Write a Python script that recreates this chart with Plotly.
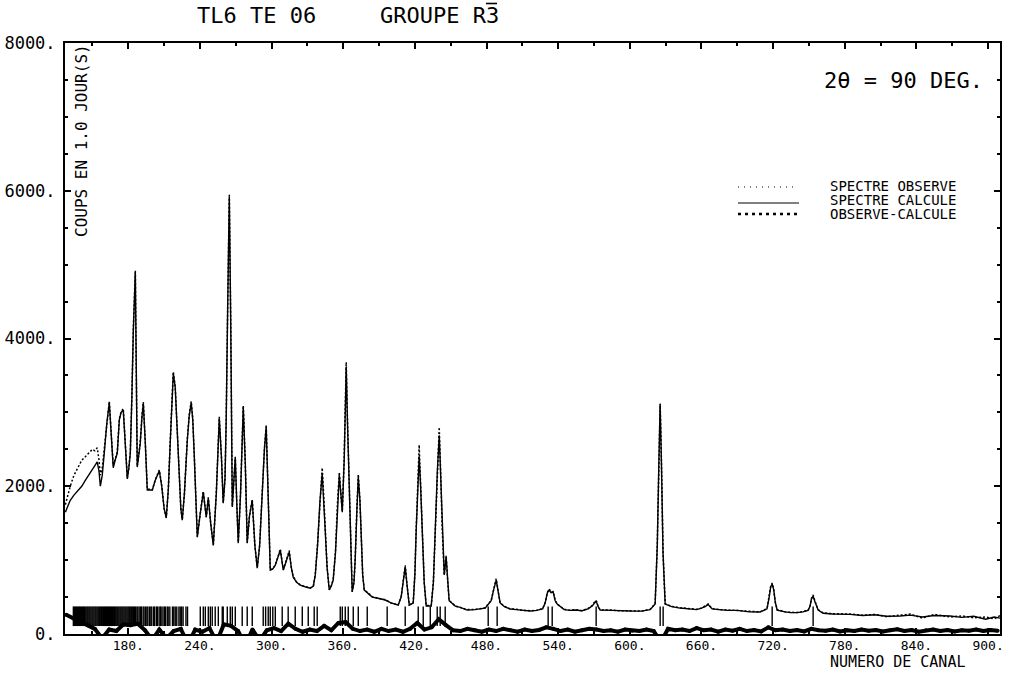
import plotly.graph_objects as go

# ---------------- data ----------------
CHANNELS = [
    127.3, 131.4, 134.5, 138.1, 141.0, 144.0, 147.0, 149.9, 152.0, 154.0,
    155.5, 156.6, 158.2, 159.9, 162.0, 164.1, 165.7, 167.4, 169.0, 170.8,
    172.5, 174.0, 175.8, 177.5, 179.2, 180.5, 181.7, 183.0, 184.2, 185.9,
    186.7, 187.5, 189.0, 190.0, 191.5, 192.6, 194.2, 195.9, 198.0, 200.1,
    202.6, 204.5, 206.0, 208.0, 210.0, 211.8, 213.5, 215.2, 216.5, 217.7,
    219.3, 221.0, 222.7, 224.0, 225.2, 227.0, 229.4, 231.0, 232.7, 234.0,
    235.3, 237.8, 240.0, 242.8, 245.3, 247.0, 249.0, 251.2, 253.7, 255.0,
    256.2, 258.0, 259.5, 261.0, 262.0, 263.3, 264.6, 265.8, 267.1, 268.5,
    269.6, 271.0, 272.1, 274.0, 275.3, 276.3, 278.0, 279.6, 281.5, 283.8,
    286.0, 288.0, 290.0, 292.0, 294.0, 295.5, 297.3, 298.9, 301.0, 303.1,
    305.5, 307.3, 309.8, 312.5, 314.8, 316.5, 318.1, 321.0, 324.0, 328.0,
    332.4, 335.0, 336.6, 338.5, 340.5, 342.4, 343.8, 344.9, 346.5, 348.3,
    350.0, 351.6, 353.5, 355.0, 356.7, 358.0, 359.2, 360.8, 361.7, 362.5,
    363.5, 365.0, 366.3, 367.5, 369.0, 370.0, 371.5, 372.6, 374.0, 375.1,
    376.3, 377.6, 381.0, 384.3, 390.0, 395.2, 400.0, 406.0, 408.5, 410.3,
    411.9, 413.5, 415.3, 418.6, 420.0, 421.1, 422.5, 423.6, 424.8, 426.1,
    427.8, 429.5, 433.7, 435.5, 437.0, 438.8, 440.4, 441.7, 442.9, 444.6,
    446.2, 447.5, 448.7, 453.8, 458.0, 463.8, 470.0, 478.9, 483.9, 486.0,
    488.1, 490.0, 491.4, 495.0, 499.8, 505.0, 510.0, 516.6, 522.0, 527.0,
    529.1, 531.0, 532.5, 534.0, 535.8, 537.5, 539.2, 545.0, 550.0, 554.2,
    560.0, 565.0, 568.5, 570.5, 571.8, 573.5, 575.2, 585.0, 590.0, 600.3,
    610.0, 617.0, 621.2, 623.0, 624.3, 625.4, 626.5, 627.8, 629.6, 635.0,
    642.1, 650.0, 656.0, 660.0, 663.1, 665.6, 668.9, 675.0, 682.0, 690.0,
    700.0, 709.1, 714.9, 716.5, 718.0, 719.2, 720.5, 721.8, 723.4, 730.0,
    734.2, 740.0, 745.0, 749.3, 751.0, 752.0, 753.5, 755.0, 757.7, 762.0,
    770.0, 784.5, 795.0, 805.0, 815.0, 826.3, 835.0, 845.0, 855.0, 868.2,
    878.0, 888.0, 898.0, 905.0, 910.0,
]

CALCULATED = [
    1650, 1810, 1880, 1950, 2000, 2080, 2150, 2215, 2280, 2330,
    2200, 2000, 2150, 2450, 2850, 3130, 2700, 2250, 2350, 2450,
    2900, 3000, 3030, 2600, 2100, 2250, 2450, 3200, 4100, 4890,
    3600, 2260, 2450, 2580, 2950, 3120, 2600, 1950, 1950, 1950,
    2080, 2150, 2210, 2000, 1700, 1570, 1950, 2620, 3200, 3530,
    3340, 2800, 2100, 1700, 1540, 1900, 2620, 2950, 3130, 2900,
    2400, 1310, 1600, 1920, 1580, 1840, 1500, 1200, 1900, 2500,
    2920, 2400, 1770, 2100, 2900, 4500, 5920, 4200, 1720, 2100,
    2390, 1700, 1230, 1900, 2700, 3070, 2300, 1230, 1600, 1810,
    1200, 890, 1200, 1900, 2500, 2800, 1800, 865, 880, 930,
    1050, 1135, 865, 1000, 1110, 900, 770, 700, 660, 640,
    620, 650, 800, 1200, 1800, 2175, 1800, 1400, 900, 595,
    650, 730, 1100, 1700, 2150, 1900, 1650, 2350, 3000, 3610,
    2900, 2000, 1000, 570, 700, 1000, 1700, 2120, 1800, 1270,
    800, 595, 550, 500, 480, 460, 420, 390, 500, 700,
    905, 650, 390, 420, 800, 1400, 2000, 2405, 2000, 1400,
    700, 380, 380, 700, 1400, 2200, 2690, 2100, 1400, 800,
    1040, 700, 450, 378, 360, 324, 330, 351, 450, 600,
    730, 550, 420, 370, 338, 330, 320, 311, 320, 340,
    420, 560, 595, 560, 567, 450, 405, 330, 320, 324,
    315, 340, 380, 430, 446, 370, 324, 320, 315, 311,
    310, 330, 405, 1200, 2300, 3107, 2300, 1100, 405, 370,
    351, 340, 330, 350, 370, 400, 340, 330, 320, 320,
    300, 297, 340, 480, 640, 675, 600, 430, 324, 300,
    290, 290, 300, 320, 380, 470, 513, 440, 324, 280,
    270, 265, 250, 260, 240, 243, 255, 230, 250, 243,
    225, 240, 200, 230, 215,
]

OBSERVED = [
    1750, 2000, 2150, 2250, 2350, 2400, 2450, 2500, 2480, 2520,
    2350, 2150, 2250, 2500, 2870, 3150, 2720, 2280, 2370, 2460,
    2910, 3010, 3050, 2610, 2110, 2260, 2460, 3210, 4120, 4920,
    3620, 2270, 2460, 2590, 2960, 3140, 2610, 1960, 1960, 1950,
    2090, 2160, 2220, 2010, 1700, 1580, 1950, 2630, 3210, 3550,
    3350, 2810, 2100, 1700, 1550, 1900, 2630, 2960, 3150, 2910,
    2400, 1320, 1600, 1930, 1580, 1850, 1500, 1210, 1900, 2510,
    2940, 2400, 1780, 2100, 2910, 4520, 5960, 4220, 1730, 2100,
    2400, 1700, 1240, 1900, 2710, 3090, 2300, 1240, 1600, 1820,
    1200, 900, 1200, 1910, 2510, 2830, 1800, 870, 880, 940,
    1050, 1150, 870, 1000, 1130, 900, 780, 700, 665, 640,
    625, 650, 810, 1220, 1830, 2250, 1820, 1410, 900, 600,
    650, 740, 1110, 1720, 2190, 1910, 1660, 2380, 3050, 3680,
    2930, 2010, 1000, 575, 700, 1010, 1720, 2160, 1810, 1280,
    800, 600, 555, 505, 480, 465, 420, 395, 500, 710,
    930, 655, 395, 425, 820, 1430, 2060, 2560, 2030, 1410,
    700, 385, 385, 710, 1430, 2260, 2800, 2130, 1410, 800,
    1060, 705, 455, 380, 360, 330, 330, 355, 455, 605,
    750, 555, 420, 375, 340, 335, 320, 315, 320, 345,
    425, 565, 610, 565, 575, 455, 405, 335, 320, 330,
    315, 345, 385, 435, 455, 370, 325, 325, 315, 315,
    310, 335, 410, 1210, 2320, 3120, 2300, 1100, 410, 375,
    355, 340, 335, 350, 375, 405, 345, 330, 325, 320,
    305, 300, 345, 485, 650, 690, 605, 430, 330, 300,
    295, 290, 305, 320, 385, 475, 530, 445, 330, 285,
    275, 270, 255, 265, 235, 250, 270, 215, 265, 230,
    245, 220, 230, 205, 250,
]

DIFF_CHANNELS = [
    128, 134, 140, 146, 152, 158, 164, 170, 176, 182,
    188, 194, 200, 206, 212, 218, 224, 230, 236, 242,
    248, 254, 260, 266, 272, 278, 284, 290, 296, 302,
    308, 314, 320, 326, 332, 338, 344, 350, 356, 362,
    368, 374, 380, 386, 392, 398, 404, 410, 416, 422,
    428, 434, 440, 446, 452, 458, 464, 470, 476, 482,
    488, 494, 500, 506, 512, 518, 524, 530, 536, 542,
    548, 554, 560, 566, 572, 578, 584, 590, 596, 602,
    608, 614, 620, 626, 632, 638, 644, 650, 656, 662,
    668, 674, 680, 686, 692, 698, 704, 710, 716, 722,
    728, 734, 740, 746, 752, 758, 764, 770, 776, 782,
    788, 794, 800, 806, 812, 818, 824, 830, 836, 842,
    848, 854, 860, 866, 872, 878, 884, 890, 896, 902,
    908,
]

DIFFERENCE = [
    260, 210, 170, 120, 70, -60, 60, 40, 130, 120,
    140, 50, -80, 60, -60, 40, 70, -140, 60, 30,
    80, -110, 130, 110, 40, -150, 60, -90, 50, 80,
    40, 140, 70, 30, 60, 40, 110, 50, 150, 160,
    70, 40, 60, 30, 70, 40, 60, 30, 70, 150,
    60, 90, 200, 120, 50, 40, 70, 50, 30, 60,
    40, 70, 50, 30, 60, 40, 55, 90, 70, 40,
    60, 30, 50, 70, 60, 40, 50, 30, 60, 45,
    40, 60, 40, -110, 70, 50, 60, 40, 80, 50,
    60, 30, 60, 45, 70, 40, 55, 35, 90, 50,
    60, 40, 55, 35, 70, 50, 45, 60, 35, 50,
    40, 60, 45, 55, 35, 50, 65, 40, 55, 30,
    50, 60, 40, 55, 35, 50, 45, 60, 40, 55,
    45,
]

REFLECTIONS = [
    134.0, 134.9, 135.8, 136.6, 137.5, 138.4, 139.2, 140.0, 141.0, 141.8,
    142.6, 143.5, 144.4, 145.3, 146.1, 147.0, 147.8, 148.7, 149.6, 150.4,
    151.3, 152.2, 153.0, 153.9, 154.8, 155.7, 156.5, 157.4, 158.2, 159.1,
    160.0, 160.8, 161.7, 162.6, 163.4, 164.3, 165.1, 166.0, 166.9, 167.8,
    168.6, 169.5, 170.4, 171.2, 172.1, 173.0, 173.8, 174.7, 175.5, 176.4,
    177.3, 178.1, 179.0, 179.9, 180.8, 181.6, 182.5, 183.3, 184.2, 185.1,
    186.0, 187.2, 188.0, 189.1, 190.3, 191.0, 192.4, 193.2, 194.5, 195.6,
    196.4, 197.8, 198.9, 199.7, 201.3, 202.1, 203.6, 204.4, 205.8, 206.9,
    207.5, 209.0, 210.2, 211.1, 212.6, 213.4, 214.8, 217.0, 218.1, 219.3,
    220.6, 222.4, 223.5, 224.7, 225.9, 228.3, 229.6, 240.3, 242.8, 244.5,
    247.0, 248.7, 250.3, 252.8, 255.4, 258.7, 259.5, 262.9, 265.4, 267.1,
    269.6, 275.4, 279.6, 283.8, 293.0, 295.0, 297.2, 298.9, 301.0, 303.1,
    308.9, 313.9, 319.8, 325.7, 330.7, 335.7, 338.2, 357.5, 359.2, 361.7,
    364.2, 368.4, 372.6, 380.1, 396.8, 411.9, 422.8, 427.0, 432.9, 438.7,
    441.2, 445.4, 481.4, 488.9, 531.6, 535.0, 571.8, 625.4, 627.9, 719.2,
    753.5,
]

X_TICKS = [180, 240, 300, 360, 420, 480, 540, 600, 660, 720, 780, 840, 900]
X_TICK_TEXT = ["180.", "240.", "300.", "360.", "420.", "480.", "540.",
               "600.", "660.", "720.", "780.", "840.", "900."]
Y_TICKS = [0, 2000, 4000, 6000, 8000]
Y_TICK_TEXT = ["0.", "2000.", "4000.", "6000.", "8000."]

# ---------------- style ----------------
FONT = "DejaVu Sans Mono"
TICK_LEVEL = 240          # vertical position of the reflection markers (counts)
X_RANGE = [127, 910]
Y_RANGE = [0, 8000]
W, H = 1016, 675
ML, MR, MT, MB = 65, 16, 43, 41
PW, PH = W - ML - MR, H - MT - MB


def px_x(p):
    """page pixel x -> paper coordinate"""
    return (p - ML) / PW


def px_y(p):
    """page pixel y -> paper coordinate"""
    return (MT + PH - p) / PH


fig = go.Figure()

fig.add_trace(go.Scatter(
    x=DIFF_CHANNELS, y=DIFFERENCE, mode="lines+markers", name="OBSERVE-CALCULE",
    line=dict(color="black", width=4), marker=dict(size=4, color="black"),
    cliponaxis=False, showlegend=False))

fig.add_trace(go.Scatter(
    x=REFLECTIONS, y=[TICK_LEVEL] * len(REFLECTIONS), mode="markers",
    name="reflexions",
    marker=dict(symbol="line-ns", size=14, color="black",
                line=dict(width=1.4, color="black")),
    showlegend=False))

fig.add_trace(go.Scatter(
    x=CHANNELS, y=OBSERVED, mode="lines", name="SPECTRE OBSERVE",
    line=dict(color="black", width=1.5, dash="2px,2px"), showlegend=False))

fig.add_trace(go.Scatter(
    x=CHANNELS, y=CALCULATED, mode="lines", name="SPECTRE CALCULE",
    line=dict(color="black", width=1.4), showlegend=False))

axis_common = dict(
    showline=True, linewidth=2, linecolor="black", mirror="ticks",
    ticks="inside", tickcolor="black", tickwidth=1.5, ticklen=6,
    showgrid=False, zeroline=False, automargin=False,
)

fig.update_xaxes(
    range=X_RANGE, tickmode="array", tickvals=X_TICKS, ticktext=X_TICK_TEXT,
    tickfont=dict(family=FONT, size=13, color="black"), ticklabelstandoff=-2,
    minor=dict(dtick=30, tick0=0, ticks="inside", ticklen=3, tickcolor="black"),
    **axis_common)

fig.update_yaxes(
    range=Y_RANGE, tickmode="array", tickvals=Y_TICKS, ticktext=Y_TICK_TEXT,
    tickfont=dict(family=FONT, size=17, color="black"), ticklabelstandoff=4,
    minor=dict(dtick=500, tick0=0, ticks="inside", ticklen=3, tickcolor="black"),
    **axis_common)

annotations = [
    dict(text="TL6 TE 06", x=px_x(195), y=px_y(15), xanchor="left", yanchor="middle",
         font=dict(family=FONT, size=22, color="black")),
    dict(text="GROUPE R3", x=px_x(378), y=px_y(15), xanchor="left", yanchor="middle",
         font=dict(family=FONT, size=22, color="black")),
    dict(text="2\u03b8 = 90 DEG.", x=px_x(985), y=px_y(80), xanchor="right", yanchor="middle",
         font=dict(family=FONT, size=22, color="black")),
    dict(text="COUPS EN 1.0 JOUR(S)", x=px_x(81), y=px_y(141), xanchor="center",
         yanchor="middle", textangle=-90,
         font=dict(family=FONT, size=16, color="black")),
    dict(text="NUMERO DE CANAL", x=px_x(828), y=px_y(673), xanchor="left", yanchor="bottom",
         font=dict(family=FONT, size=15, color="black")),
    dict(text="SPECTRE OBSERVE", x=px_x(828), y=px_y(186), xanchor="left", yanchor="middle",
         font=dict(family=FONT, size=14, color="black")),
    dict(text="SPECTRE CALCULE", x=px_x(828), y=px_y(200), xanchor="left", yanchor="middle",
         font=dict(family=FONT, size=14, color="black")),
    dict(text="OBSERVE-CALCULE", x=px_x(828), y=px_y(214), xanchor="left", yanchor="middle",
         font=dict(family=FONT, size=14, color="black")),
]
for a in annotations:
    a.update(xref="paper", yref="paper", showarrow=False)

shapes = [
    # overline of the space-group symbol R-3
    dict(type="line", x0=px_x(486), x1=px_x(497), y0=px_y(3.5), y1=px_y(3.5),
         line=dict(color="black", width=1.6)),
    # legend keys
    dict(type="line", x0=px_x(738), x1=px_x(797), y0=px_y(187), y1=px_y(187),
         line=dict(color="black", width=1.2, dash="1px,5px")),
    dict(type="line", x0=px_x(738), x1=px_x(799), y0=px_y(203), y1=px_y(203),
         line=dict(color="black", width=1)),
    dict(type="line", x0=px_x(738), x1=px_x(797), y0=px_y(214), y1=px_y(214),
         line=dict(color="black", width=2.5, dash="3px,4px")),
]
for s in shapes:
    s.update(xref="paper", yref="paper")

fig.update_layout(
    width=W, height=H, margin=dict(l=ML, r=MR, t=MT, b=MB),
    paper_bgcolor="white", plot_bgcolor="white",
    showlegend=False, annotations=annotations, shapes=shapes,
    font=dict(family=FONT, color="black"),
)

fig.write_html(
    "out.html",
    config={"displayModeBar": False},
    post_script="document.body.style.margin='0px';document.body.style.overflow='hidden';",
)
